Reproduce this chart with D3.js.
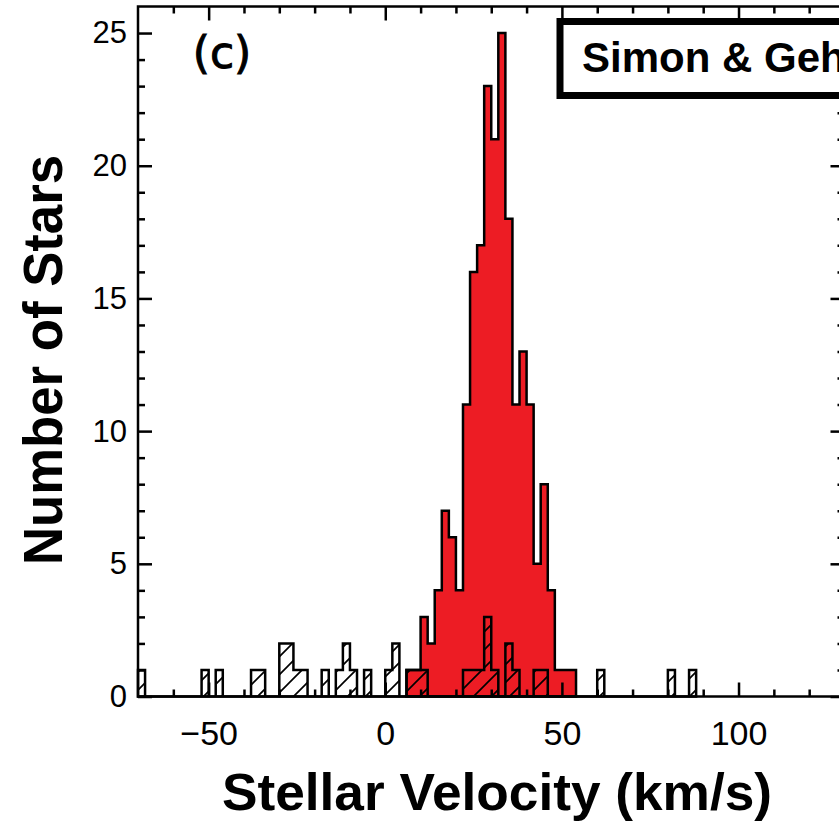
<!DOCTYPE html>
<html>
<head>
<meta charset="utf-8">
<script src="https://cdn.jsdelivr.net/npm/d3@7"></script>
<style>
  html, body { margin: 0; padding: 0; background: #fff; }
  svg { display: block; }
</style>
</head>
<body>
<script>
// velocity histogram, 2 km/s bins (left edge of each bin)
const memberBins   = [6, 8, 10, 12, 14, 16, 18, 20, 22, 24, 26, 28, 30, 32, 34, 36, 38, 40, 42, 44, 46, 48, 50, 52];
const memberCounts = [1, 1, 3, 2, 4, 7, 6, 4, 11, 16, 17, 23, 21, 25, 18, 11, 13, 11, 5, 8, 4, 1, 1, 1];

const nonMemberBins   = [-70, -52, -48, -38, -36, -30, -28, -26, -24, -18, -14, -12, -10, -6, 0, 2, 6, 8, 10, 22, 24, 26, 28, 30, 34, 36, 42, 44, 60, 80, 86];
const nonMemberCounts = [1, 1, 1, 1, 1, 2, 2, 1, 1, 1, 1, 2, 1, 1, 1, 2, 1, 1, 1, 1, 1, 1, 3, 1, 2, 1, 1, 1, 1, 1, 1];

const binWidth = 2;
const xMajor = [-50, 0, 50, 100];
const yMajor = [0, 5, 10, 15, 20, 25];

const W = 839, H = 821;
const svg = d3.select("body").append("svg")
    .attr("width", W)
    .attr("height", H);

const x = d3.scaleLinear().domain([-70, 130]).range([138, 844.5]);
const y = d3.scaleLinear().domain([0, 26]).range([696.5, 6.5]);

// hatch pattern for the non-member histogram
const defs = svg.append("defs");
defs.append("pattern")
    .attr("id", "hatch")
    .attr("patternUnits", "userSpaceOnUse")
    .attr("width", 18)
    .attr("height", 18)
  .append("path")
    .attr("d", "M-4,4L4,-4M0,18L18,0M14,22L22,14")
    .attr("stroke", "#000")
    .attr("stroke-width", 1.7);

// turn sparse bins into step points
function stepData(bins, counts) {
    const m = new Map(bins.map((b, i) => [b, counts[i]]));
    const lo = d3.min(bins), hi = d3.max(bins) + binWidth;
    const pts = [];
    for (let b = lo; b < hi; b += binWidth) pts.push([b, m.get(b) || 0]);
    pts.push([hi, 0]);
    return pts;
}

const area = d3.area()
    .x(d => x(d[0]))
    .y0(y(0))
    .y1(d => y(d[1]))
    .curve(d3.curveStepAfter);

svg.append("path")
    .datum(stepData(memberBins, memberCounts))
    .attr("d", area)
    .attr("fill", "#ED1C24")
    .attr("stroke", "#000")
    .attr("stroke-width", 2.5)
    .attr("stroke-linejoin", "miter");

svg.append("path")
    .datum(stepData(nonMemberBins, nonMemberCounts))
    .attr("d", area)
    .attr("fill", "url(#hatch)")
    .attr("stroke", "#000")
    .attr("stroke-width", 2.5)
    .attr("stroke-linejoin", "miter");

// axes, ticks pointing inward
const xMinor = d3.range(-60, 130, 10).filter(v => !xMajor.includes(v));
const yMinor = d3.range(1, 26, 1).filter(v => !yMajor.includes(v));

function styleAxis(g, fontSize) {
    g.select(".domain").remove();
    g.selectAll(".tick line").attr("stroke", "#000").attr("stroke-width", 2.5);
    g.selectAll("text")
        .attr("fill", "#000")
        .style("font-family", "'Liberation Sans', Arial, sans-serif")
        .style("font-size", fontSize + "px");
}

svg.append("g").attr("transform", `translate(0,${y(0)})`)
    .call(d3.axisBottom(x).tickValues(xMajor).tickSize(-14).tickPadding(24))
    .call(g => styleAxis(g, 34));
svg.append("g").attr("transform", `translate(0,${y(0)})`)
    .call(d3.axisBottom(x).tickValues(xMinor).tickSize(-7).tickFormat(""))
    .call(g => styleAxis(g, 0));
svg.append("g").attr("transform", `translate(0,${y(26)})`)
    .call(d3.axisTop(x).tickValues(xMajor).tickSize(-14).tickFormat(""))
    .call(g => styleAxis(g, 0));
svg.append("g").attr("transform", `translate(0,${y(26)})`)
    .call(d3.axisTop(x).tickValues(xMinor).tickSize(-7).tickFormat(""))
    .call(g => styleAxis(g, 0));

svg.append("g").attr("transform", `translate(${x(-70)},0)`)
    .call(d3.axisLeft(y).tickValues(yMajor).tickSize(-14).tickPadding(11))
    .call(g => styleAxis(g, 31));
svg.append("g").attr("transform", `translate(${x(-70)},0)`)
    .call(d3.axisLeft(y).tickValues(yMinor).tickSize(-7).tickFormat(""))
    .call(g => styleAxis(g, 0));
svg.append("g").attr("transform", `translate(${x(130)},0)`)
    .call(d3.axisRight(y).tickValues(yMajor).tickSize(-14).tickFormat(""))
    .call(g => styleAxis(g, 0));
svg.append("g").attr("transform", `translate(${x(130)},0)`)
    .call(d3.axisRight(y).tickValues(yMinor).tickSize(-7).tickFormat(""))
    .call(g => styleAxis(g, 0));

// frame
svg.append("rect")
    .attr("x", x(-70))
    .attr("y", y(26))
    .attr("width", x(130) - x(-70))
    .attr("height", y(0) - y(26))
    .attr("fill", "none")
    .attr("stroke", "#000")
    .attr("stroke-width", 2.5);

// panel label
svg.append("text")
    .attr("x", 222)
    .attr("y", 68)
    .attr("text-anchor", "middle")
    .attr("stroke", "#000")
    .attr("stroke-width", 1)
    .style("font-family", "'DejaVu Sans', sans-serif")
    .style("font-size", "44px")
    .text("(c)");

// legend box (runs off the right edge, as in the source figure)
svg.append("rect")
    .attr("x", 560)
    .attr("y", 21.5)
    .attr("width", 400)
    .attr("height", 74)
    .attr("fill", "#fff")
    .attr("stroke", "#000")
    .attr("stroke-width", 7);
svg.append("text")
    .attr("x", 582)
    .attr("y", 72)
    .style("font-family", "'Liberation Sans', Arial, sans-serif")
    .style("font-weight", "bold")
    .style("font-size", "42px")
    .text("Simon & Geha");

// axis titles
svg.append("text")
    .attr("x", 497)
    .attr("y", 810)
    .attr("text-anchor", "middle")
    .attr("textLength", 550)
    .attr("lengthAdjust", "spacingAndGlyphs")
    .style("font-family", "'Liberation Sans', Arial, sans-serif")
    .style("font-weight", "bold")
    .style("font-size", "52px")
    .text("Stellar Velocity (km/s)");

svg.append("text")
    .attr("transform", "translate(62,360) rotate(-90)")
    .attr("text-anchor", "middle")
    .attr("textLength", 410)
    .attr("lengthAdjust", "spacingAndGlyphs")
    .style("font-family", "'Liberation Sans', Arial, sans-serif")
    .style("font-weight", "bold")
    .style("font-size", "56px")
    .text("Number of Stars");
</script>
</body>
</html>
